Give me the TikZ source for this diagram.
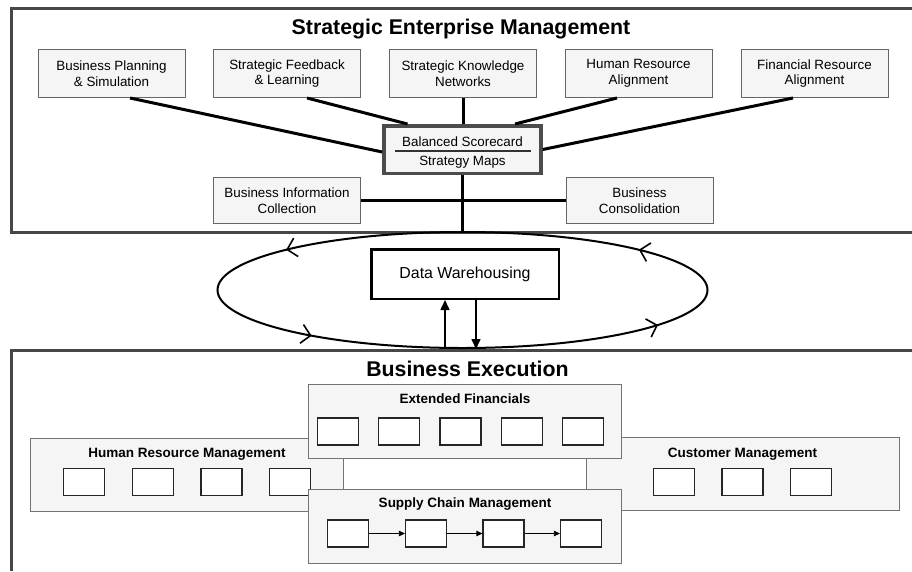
\documentclass[tikz,border=0pt]{standalone}
\usepackage{fontspec}
\setmainfont{Liberation Sans}
\usetikzlibrary{shapes.geometric,decorations.markings,arrows.meta}

\begin{document}
\begin{tikzpicture}[x=1pt,y=-1pt,
		frame/.style={draw=black!72, line width=3pt},
		sembox/.style={draw=black!60, fill=black!4, line width=1pt, minimum width=147pt, minimum height=48pt, align=center, font=\fontsize{13.4}{15.5}\selectfont},
		link/.style={line width=3pt},
		unit/.style={draw=black!55, fill=black!4, line width=1pt, minimum width=313pt, minimum height=73pt},
		unittitle/.style={anchor=base, font=\bfseries\fontsize{13.5}{16}\selectfont},
		cell/.style={draw=black!85, fill=white, line width=1.2pt, minimum width=41pt, minimum height=27pt},
		bigtitle/.style={anchor=base, font=\bfseries\fontsize{21.3}{24}\selectfont},
		barb/.tip={Straight Barb[length=9pt,width=19pt,line width=1.6pt]}]
			\useasboundingbox (0,0) rectangle (912,571);
			
			% the two big frames, open on the right
			\draw[frame] (912,8.5) -- (11.5,8.5) -- (11.5,232.5) -- (912,232.5);
			\draw[frame] (912,350.5) -- (11.5,350.5) -- (11.5,571);
			\node[bigtitle] (semtitle) at (461,34) {Strategic Enterprise Management};
			\node[bigtitle] (bextitle) at (467.5,376) {Business Execution};
			
			% upper row of boxes
			\foreach \name/\x/\txt in
			{bps/111.5/{Business Planning\\\& Simulation}, sfl/287/{Strategic Feedback\\\& Learning}, skn/463/{Strategic Knowledge\\Networks}, hra/638.5/{Human Resource\\Alignment}, fra/814.5/{Financial Resource\\Alignment}}{
				\node[sembox] (\name) at (\x,73.5) {\txt};
			}
			\node[sembox, minimum height=46pt] (bic) at (287,200.5) {Business Information\\Collection};
			\node[sembox, minimum height=46pt] (bcon) at (639.5,200.5) {Business\\Consolidation};
			
			% balanced scorecard in the middle
			\node[draw=black!70, fill=black!4, line width=3.5pt, minimum width=157pt, minimum height=47.5pt] (bsc) at (462.5,149.5) {};
			\node[anchor=base, font=\fontsize{13.4}{16}\selectfont] (bsctop) at (462.5,146.5) {Balanced Scorecard};
			\node[anchor=base, font=\fontsize{13.4}{16}\selectfont] (bscbot) at (462.5,165.5) {Strategy Maps};
			\coordinate (bscl) at (395,151);
			\coordinate (bscr) at (531,151);
			\draw[line width=2pt, black!80] (bscl) -- (bscr);
			
			% the cycle round data warehousing
			\node[ellipse, draw, line width=2pt, minimum width=490pt, minimum height=116pt, inner sep=0pt,
				postaction={decorate}, decoration={markings,
					mark=at position 0.08 with {\arrow{barb}},
					mark=at position 0.42 with {\arrow{barb}},
					mark=at position 0.605 with {\arrow{barb}},
					mark=at position 0.939 with {\arrow{barb}}}] (loop) at (462.5,290) {};
			\node[draw, line width=2.5pt, minimum width=187.5pt, minimum height=49.5pt, font=\fontsize{15.9}{18}\selectfont] (dw) at (465,274) {Data Warehousing};
			
			% edges
			\draw[link] ([xshift=18.5pt]bps.south) -- ([yshift=-2.5pt]bsc.west);
			\draw[link] ([xshift=20pt]sfl.south) -- ([xshift=-55pt]bsc.north);
			\draw[link] (skn.south) -- (skn.south |- bsc.north);
			\draw[link] ([xshift=-21.5pt]hra.south) -- ([xshift=52.5pt]bsc.north);
			\draw[link] ([xshift=-21.5pt]fra.south) -- (bsc.east);
			\draw[link] (bsc.south) -- (loop.north);
			\draw[link] (bic.east) -- (bic.east -| bsc.south);
			\draw[link] (bcon.west) -- (bcon.west -| bsc.south);
			
			\coordinate (upx) at (445,0);
			\coordinate (dnx) at (476,0);
			\draw[line width=1.5pt, -{Triangle[length=10pt,width=9pt]}] (loop.south -| upx) -- (dw.south -| upx);
			\draw[line width=1.5pt, -{Triangle[length=10pt,width=9pt]}] (dw.south -| dnx) -- (loop.south -| dnx);
			
			% business execution: side units first, they lie underneath
			\node[unit] (hrm) at (187,474.5) {};
			\node[unittitle] (hrmtitle) at ([yshift=-20pt]hrm.north) {Human Resource Management};
			\foreach \i/\x in {1/84, 2/153, 3/221.5, 4/290}{
				\node[cell] (hrm\i) at (\x,482) {};
			}
			\node[unit] (cm) at (742.5,473.5) {};
			\node[unittitle] (cmtitle) at ([yshift=-20.5pt]cm.north) {Customer Management};
			\foreach \i/\x in {1/674, 2/742.5, 3/811}{
				\node[cell] (cm\i) at (\x,482) {};
			}
			
			\node[unit, minimum height=74pt] (ef) at (465,421) {};
			\node[unittitle] (eftitle) at ([yshift=-20pt]ef.north) {Extended Financials};
			\foreach \i/\x in {1/338, 2/399.25, 3/460.5, 4/521.75, 5/583}{
				\node[cell] (ef\i) at (\x,431.5) {};
			}
			\node[unit, minimum height=74pt] (scm) at (465,526) {};
			\node[unittitle] (scmtitle) at ([yshift=-19pt]scm.north) {Supply Chain Management};
			\foreach \i/\x in {1/348, 2/426, 3/503.5, 4/581}{
				\node[cell] (scm\i) at (\x,533.5) {};
			}
			\foreach \a/\b in {1/2, 2/3, 3/4}{
				\draw[line width=0.8pt, -{Triangle[length=6pt,width=5.5pt]}] (scm\a) -- (scm\b);
			}
		\end{tikzpicture}
\end{document}
